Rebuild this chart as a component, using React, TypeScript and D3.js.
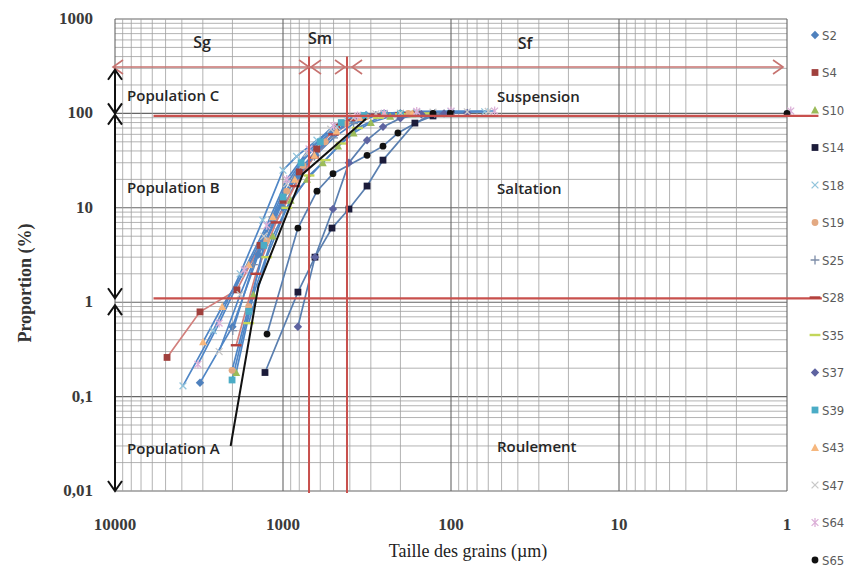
import React from 'react';
import * as d3 from 'd3';

type Pt = [number, number];

const W = 856;
const H = 570;

// axis ticks
const xTickValues = [10000, 1000, 100, 10, 1];
const xTickLabels = ['10000', '1000', '100', '10', '1'];
const yTickValues = [1000, 100, 10, 1, 0.1, 0.01];
const yTickLabels = ['1000', '100', '10', '1', '0,1', '0,01'];

// series: [grain size (µm), cumulative proportion (%)]
const s2: Pt[] = [[3120, 0.14], [2000, 0.55], [1400, 3.2], [1000, 10], [800, 22], [640, 36], [500, 62], [400, 85], [320, 96], [250, 100], [200, 100]];
const s4: Pt[] = [[4900, 0.26], [3120, 0.79], [1880, 1.35], [1370, 4], [1000, 12], [800, 24], [630, 42], [480, 72], [330, 93], [250, 99], [160, 100]];
const s10: Pt[] = [[1900, 0.18], [1500, 1.2], [1150, 5], [900, 12], [720, 20], [580, 30], [470, 45], [380, 62], [300, 80], [230, 93], [170, 99], [110, 100]];
const s14: Pt[] = [[1280, 0.18], [815, 1.28], [645, 3.0], [511, 6.1], [405, 9.7], [316, 17], [254, 32], [164, 79], [128, 94], [100, 100]];
const s18: Pt[] = [[3940, 0.13], [2600, 0.5], [1800, 2], [1320, 7.4], [1000, 25], [830, 35], [628, 52], [477, 72], [416, 85], [330, 96], [250, 100], [160, 102], [100, 104], [63, 104]];
const s19: Pt[] = [[2010, 0.19], [1600, 0.9], [1250, 4.5], [950, 15], [760, 28], [560, 50], [420, 78], [320, 92], [250, 99], [180, 100]];
const s25: Pt[] = [[1990, 0.5], [1500, 2.5], [1150, 8], [870, 20], [650, 35], [500, 55], [380, 78], [280, 95], [200, 100], [125, 100]];
const s28: Pt[] = [[1900, 0.35], [1450, 2], [1100, 7], [850, 17], [660, 34], [500, 60], [380, 85], [280, 97], [200, 100]];
const s35: Pt[] = [[1600, 0.6], [1250, 3], [950, 10], [700, 22], [560, 32], [450, 48], [360, 70], [270, 90], [200, 98], [140, 100]];
const s37: Pt[] = [[815, 0.55], [645, 3.0], [504, 9.7], [405, 30], [316, 52], [254, 72], [200, 89], [150, 98], [110, 100], [80, 101]];
const s39: Pt[] = [[2010, 0.15], [1600, 0.8], [1300, 4], [1000, 13], [780, 30], [600, 50], [450, 80], [330, 95], [250, 100], [200, 100]];
const s43: Pt[] = [[2990, 0.38], [2300, 0.9], [1600, 2.5], [1150, 8], [850, 20], [650, 36], [480, 65], [350, 90], [250, 99], [170, 100]];
const s47: Pt[] = [[2400, 0.3], [1800, 1.2], [1300, 5], [950, 18], [720, 38], [520, 68], [380, 90], [280, 99], [200, 101], [128, 103], [80, 104], [60, 105]];
const s64: Pt[] = [[3210, 0.22], [2400, 0.6], [1700, 2.2], [1250, 6.5], [950, 20], [700, 42], [500, 74], [360, 94], [250, 100], [160, 105], [100, 106], [55, 106]];
const s65: Pt[] = [[1245, 0.46], [815, 6.1], [628, 15], [504, 23], [316, 36], [254, 45], [207, 62], [128, 100], [101, 100]];
// isolated points at the fine end
const s64Far: Pt[] = [[0.95, 106]];
const s65Far: Pt[] = [[1, 100]];

const seriesNames = ['S2', 'S4', 'S10', 'S14', 'S18', 'S19', 'S25', 'S28', 'S35', 'S37', 'S39', 'S43', 'S47', 'S64', 'S65'];
const seriesData: Pt[][] = [s2, s4, s10, s14, s18, s19, s25, s28, s35, s37, s39, s43, s47, s64, s65];
const seriesExtra: Pt[][] = [[], [], [], [], [], [], [], [], [], [], [], [], [], s64Far, s65Far];
const markerShapes = ['diamond', 'square', 'triangle', 'square', 'x', 'circle', 'plus', 'dash', 'dash', 'diamond', 'square', 'triangle', 'x', 'star', 'circle'];
const markerColors = ['#4f81bd', '#a0403d', '#9bbb59', '#1c1c3a', '#93c5dc', '#e3a982', '#7d8da8', '#b2403c', '#c3d65a', '#5e63a0', '#4bacc6', '#f6b77e', '#c9c9c9', '#dcb0d8', '#111111'];
const lineColors = ['#4f86c6', '#d27f7c', '#4f86c6', '#5a7fb0', '#4f86c6', '#4f86c6', '#4f86c6', '#d27f7c', '#4f86c6', '#5a7fb0', '#4f86c6', '#4f86c6', '#4f86c6', '#4f86c6', '#5a7fb0'];

// annotations (values in µm / %)
const populationLine: Pt[] = [[2050, 0.03], [1400, 1.5], [760, 23], [320, 88]];
const redLevels = [94, 1.1];
const redLevelEnds = [0.65, 0.62];
const redLevelStart = 5900;
const redSizes = [700, 416];
const redSizeSpan: [number, number] = [400, 0.0095];
const arrowLevel = 310;
const sizeClassBounds: [number, number][] = [[10280, 700], [700, 416], [388, 1.056]];
const populationBounds: [number, number][] = [[290, 100], [97, 1.1], [0.93, 0.01]];

const x = d3.scaleLog().domain([10000, 1]).range([115, 787]);
const y = d3.scaleLog().domain([0.01, 1000]).range([491, 19]);

const line = d3.line<Pt>().x((d) => x(d[0])).y((d) => y(d[1]));

function chevron(tx: number, ty: number, dx: number, dy: number, len = 9, w = 7) {
  const px = -dy, py = dx;
  const bx = tx - dx * len, by = ty - dy * len;
  return `M${bx + px * w},${by + py * w}L${tx},${ty}L${bx - px * w},${by - py * w}`;
}

function Marker({ shape, cx, cy, color }: { shape: string; cx: number; cy: number; color: string }) {
  const s = 3.4;
  switch (shape) {
    case 'diamond':
      return <path d={`M${cx},${cy - s - 0.8}L${cx + s + 0.8},${cy}L${cx},${cy + s + 0.8}L${cx - s - 0.8},${cy}Z`} fill={color} />;
    case 'square':
      return <rect x={cx - s} y={cy - s} width={2 * s} height={2 * s} fill={color} />;
    case 'triangle':
      return <path d={`M${cx},${cy - s - 0.6}L${cx + s + 0.6},${cy + s}L${cx - s - 0.6},${cy + s}Z`} fill={color} />;
    case 'circle':
      return <circle cx={cx} cy={cy} r={s} fill={color} />;
    case 'x':
      return <path d={`M${cx - s},${cy - s}L${cx + s},${cy + s}M${cx - s},${cy + s}L${cx + s},${cy - s}`} stroke={color} strokeWidth={1.3} />;
    case 'star':
      return <path d={`M${cx - s},${cy - s}L${cx + s},${cy + s}M${cx - s},${cy + s}L${cx + s},${cy - s}M${cx},${cy - s - 1}L${cx},${cy + s + 1}`} stroke={color} strokeWidth={1.3} />;
    case 'plus':
      return <path d={`M${cx - s - 1},${cy}L${cx + s + 1},${cy}M${cx},${cy - s - 1}L${cx},${cy + s + 1}`} stroke={color} strokeWidth={1.3} />;
    case 'dash':
      return <path d={`M${cx - s - 2},${cy}L${cx + s + 2},${cy}`} stroke={color} strokeWidth={2.4} />;
    default:
      return null;
  }
}

export default function App() {
  const xGrid = x.ticks();
  const yGrid = y.ticks();
  const isMajor = (v: number) => Math.abs(Math.log10(v) - Math.round(Math.log10(v))) < 1e-6;
  const [xl, xr] = x.range();
  const [yb, yt] = y.range();
  const red = '#c8504d';
  const annoFont = { fontFamily: 'Open Sans, sans-serif', fontSize: 15, fontWeight: 600, fill: '#262626' } as const;
  const bigAnno = { ...annoFont, fontSize: 16 } as const;
  const tickFont = { fontFamily: 'Liberation Serif, serif', fontSize: 17, fontWeight: 700, fill: '#3a3a3a' } as const;
  const ay = y(arrowLevel);

  return (
    <svg width={W} height={H} style={{ position: 'absolute', left: 0, top: 0, background: '#fff' }}>
      <rect width={W} height={H} fill="#fff" />
      {/* grid */}
      <g>
        {yGrid.map((v, i) => (
          <line key={'gy' + i} x1={xl} x2={xr} y1={y(v)} y2={y(v)} stroke={isMajor(v) ? '#666' : '#a0a0a0'} strokeWidth={isMajor(v) ? 1.1 : 0.8} />
        ))}
        {xGrid.map((v, i) => (
          <line key={'gx' + i} x1={x(v)} x2={x(v)} y1={yt} y2={yb} stroke={isMajor(v) ? '#666' : '#a0a0a0'} strokeWidth={isMajor(v) ? 1.1 : 0.8} />
        ))}
      </g>

      {/* series lines */}
      {seriesData.map((d, i) => (
        <path key={'l' + i} d={line(d) || ''} fill="none" stroke={lineColors[i]} strokeWidth={1.7} />
      ))}
      {/* markers */}
      {seriesData.map((d, i) => (
        <g key={'m' + i}>
          {d.concat(seriesExtra[i]).map((p, j) => (
            <Marker key={j} shape={markerShapes[i]} cx={x(p[0])} cy={y(p[1])} color={markerColors[i]} />
          ))}
        </g>
      ))}

      {/* red guide lines */}
      {redLevels.map((v, i) => (
        <line key={'rh' + i} x1={x(redLevelStart)} x2={x(redLevelEnds[i])} y1={y(v)} y2={y(v)} stroke={red} strokeWidth={2.2} />
      ))}
      {redSizes.map((v, i) => (
        <line key={'rv' + i} x1={x(v)} x2={x(v)} y1={y(redSizeSpan[0])} y2={y(redSizeSpan[1])} stroke={red} strokeWidth={2} />
      ))}
      {/* size class arrows */}
      <line x1={x(sizeClassBounds[0][0])} x2={x(sizeClassBounds[2][1])} y1={ay} y2={ay} stroke="#c77370" strokeWidth={1.5} />
      {sizeClassBounds.map((b, i) => (
        <g key={'sa' + i} fill="none" stroke="#c77370" strokeWidth={1.6}>
          <path d={chevron(x(b[0]) + (i === 1 ? 2 : 0), ay, -1, 0, 10, 7)} />
          <path d={chevron(x(b[1]) - (i === 1 ? 2 : 0), ay, 1, 0, 10, 7)} />
        </g>
      ))}

      {/* population line */}
      <path d={line(populationLine) || ''} fill="none" stroke="#111" strokeWidth={2} />

      {/* population arrows */}
      {populationBounds.map((b, i) => (
        <g key={'pa' + i} fill="none" stroke="#111" strokeWidth={2}>
          <line x1={x(10000)} x2={x(10000)} y1={y(b[0])} y2={y(b[1])} />
          <path d={chevron(x(10000), y(b[0]), 0, -1, 10, 7)} />
          <path d={chevron(x(10000), y(b[1]), 0, 1, 10, 7)} />
        </g>
      ))}

      {/* annotation text */}
      <text x={202} y={48} textAnchor="middle" style={bigAnno}>Sg</text>
      <text x={320} y={44} textAnchor="middle" style={bigAnno}>Sm</text>
      <text x={525} y={49} textAnchor="middle" style={bigAnno}>Sf</text>
      <text x={127} y={101} style={annoFont}>Population C</text>
      <text x={127} y={193} style={annoFont}>Population B</text>
      <text x={127} y={454} style={annoFont}>Population A</text>
      <text x={497} y={102} style={annoFont}>Suspension</text>
      <text x={497} y={194} style={annoFont}>Saltation</text>
      <text x={497} y={452} style={annoFont}>Roulement</text>

      {/* axes labels */}
      {yTickValues.map((v, i) => (
        <text key={'yt' + i} x={93} y={y(v) + 5} textAnchor="end" style={tickFont}>{yTickLabels[i]}</text>
      ))}
      {xTickValues.map((v, i) => (
        <text key={'xt' + i} x={x(v)} y={530} textAnchor="middle" style={tickFont}>{xTickLabels[i]}</text>
      ))}
      <text x={468} y={557} textAnchor="middle" style={{ fontFamily: 'Liberation Serif, serif', fontSize: 18, fill: '#222' }}>Taille des grains (µm)</text>
      <text transform={`translate(31,283) rotate(-90)`} textAnchor="middle" style={{ fontFamily: 'Liberation Serif, serif', fontSize: 18, fontWeight: 700, fill: '#333' }}>Proportion (%)</text>

      {/* legend */}
      {seriesNames.map((n, i) => {
        const ly = 35 + i * 37.5;
        return (
          <g key={'lg' + i}>
            <Marker shape={markerShapes[i]} cx={815} cy={ly} color={markerColors[i]} />
            <text x={822} y={ly + 4.5} style={{ fontFamily: 'Liberation Sans Narrow, DejaVu Sans Condensed, sans-serif', fontSize: 13, fill: '#5a5a5a' }}>{n}</text>
          </g>
        );
      })}
    </svg>
  );
}
